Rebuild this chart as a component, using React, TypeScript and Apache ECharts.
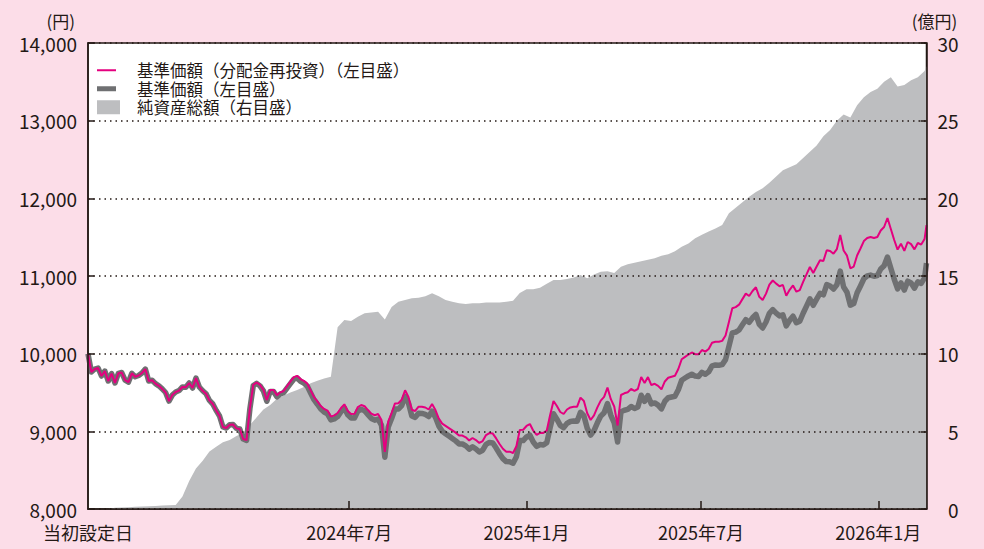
import React, { useEffect, useRef } from "react";
import * as echarts from "echarts";

const DAY = 86400000;
const START = Date.UTC(2023, 9, 4);
const END = Date.UTC(2026, 1, 20);
// half-weekly sample dates for the two price lines, plus the last date
const sampleDates: number[] = Array.from({ length: 249 }, (_, k) => START + k * 3.5 * DAY).concat([END]);
// weekly sample dates for net assets, plus the last date
const assetDates: number[] = Array.from({ length: 125 }, (_, k) => START + k * 7 * DAY).concat([END]);

// 基準価額（分配金再投資）
const navReinvested = [
  10000, 9764, 9802, 9815, 9712, 9776, 9648, 9744, 9622, 9747,
  9757, 9660, 9635, 9747, 9703, 9719, 9751, 9802, 9648, 9657,
  9614, 9586, 9547, 9500, 9390, 9467, 9506, 9525, 9571, 9569,
  9622, 9558, 9686, 9571, 9522, 9483, 9398, 9352, 9269, 9197,
  9056, 9043, 9085, 9088, 9038, 9030, 8901, 8888, 9300, 9600,
  9629, 9599, 9536, 9403, 9532, 9532, 9464, 9502, 9519, 9581,
  9639, 9697, 9715, 9673, 9650, 9615, 9527, 9442, 9385, 9326,
  9289, 9267, 9190, 9205, 9236, 9300, 9348, 9262, 9223, 9225,
  9313, 9339, 9323, 9274, 9227, 9207, 9223, 9146, 8734, 9125,
  9236, 9359, 9361, 9408, 9529, 9443, 9278, 9262, 9317, 9317,
  9307, 9281, 9352, 9274, 9165, 9099, 9070, 9041, 9012, 8983,
  8945, 8946, 8923, 8883, 8914, 8888, 8850, 8875, 8952, 8978,
  8971, 8909, 8837, 8776, 8738, 8738, 8721, 8808, 9017, 9020,
  9069, 9094, 9008, 8955, 8981, 8980, 9011, 9210, 9391, 9326,
  9249, 9223, 9281, 9308, 9317, 9317, 9434, 9391, 9232, 9146,
  9205, 9308, 9396, 9443, 9563, 9414, 9320, 9075, 9468, 9490,
  9504, 9545, 9522, 9545, 9699, 9622, 9699, 9596, 9612, 9586,
  9541, 9642, 9690, 9703, 9716, 9802, 9928, 9959, 9989, 10015,
  9993, 9992, 10047, 10026, 10060, 10140, 10154, 10154, 10165, 10233,
  10408, 10585, 10599, 10631, 10702, 10773, 10743, 10807, 10855, 10732,
  10691, 10773, 10889, 10942, 10902, 10868, 10885, 10745, 10822, 10878,
  10798, 10819, 10925, 11020, 11116, 11038, 11123, 11204, 11193, 11332,
  11322, 11287, 11347, 11528, 11329, 11262, 11099, 11122, 11264, 11354,
  11450, 11489, 11502, 11489, 11502, 11586, 11631, 11747, 11605, 11463,
  11340, 11416, 11324, 11438, 11410, 11343, 11425, 11405, 11476, 11656,
];

// 基準価額
const nav = [
  10000, 9764, 9802, 9815, 9712, 9776, 9648, 9744, 9622, 9747,
  9757, 9660, 9635, 9747, 9703, 9719, 9751, 9802, 9648, 9657,
  9614, 9586, 9547, 9500, 9390, 9467, 9506, 9525, 9571, 9569,
  9622, 9558, 9686, 9571, 9522, 9483, 9398, 9352, 9269, 9197,
  9056, 9043, 9085, 9088, 9038, 9030, 8901, 8884, 9292, 9590,
  9617, 9585, 9521, 9387, 9514, 9513, 9444, 9481, 9497, 9557,
  9614, 9670, 9687, 9644, 9620, 9583, 9494, 9407, 9349, 9288,
  9249, 9225, 9147, 9160, 9190, 9253, 9300, 9213, 9173, 9173,
  9260, 9284, 9266, 9215, 9166, 9144, 9158, 9079, 8666, 9055,
  9165, 9286, 9287, 9332, 9452, 9364, 9198, 9180, 9233, 9231,
  9219, 9191, 9260, 9180, 9069, 9001, 8970, 8939, 8908, 8877,
  8838, 8837, 8813, 8771, 8801, 8773, 8734, 8757, 8833, 8857,
  8849, 8785, 8712, 8649, 8610, 8608, 8590, 8674, 8881, 8881,
  8928, 8950, 8862, 8806, 8830, 8825, 8853, 9048, 9226, 9157,
  9077, 9048, 9103, 9127, 9133, 9131, 9246, 9201, 9040, 8952,
  9009, 9110, 9196, 9240, 9358, 9206, 9110, 8862, 9253, 9271,
  9282, 9320, 9294, 9314, 9465, 9385, 9459, 9353, 9366, 9337,
  9289, 9387, 9432, 9442, 9452, 9535, 9658, 9686, 9713, 9736,
  9711, 9707, 9759, 9735, 9766, 9843, 9854, 9851, 9859, 9923,
  10093, 10267, 10277, 10305, 10372, 10438, 10403, 10462, 10505, 10377,
  10331, 10408, 10519, 10567, 10522, 10486, 10500, 10357, 10430, 10482,
  10398, 10417, 10520, 10613, 10706, 10623, 10703, 10777, 10758, 10890,
  10872, 10832, 10887, 11063, 10859, 10790, 10624, 10645, 10784, 10872,
  10965, 11002, 11012, 10997, 11007, 11089, 11131, 11245, 11100, 10958,
  10835, 10911, 10819, 10933, 10910, 10843, 10925, 10905, 10976, 11166,
];

// 純資産総額（億円）
const netAssets = [
  0, 0, 0, 0, 0.08, 0.1, 0.12, 0.14, 0.16, 0.18,
  0.2, 0.22, 0.24, 0.26, 0.8, 1.8, 2.6, 3.1, 3.7, 4.0,
  4.3, 4.45, 4.7, 4.9, 5.4, 5.9, 6.4, 6.7, 7.1, 7.3,
  7.5, 7.66, 7.85, 8.1, 8.25, 8.4, 8.52, 11.7, 12.17, 12.1,
  12.38, 12.6, 12.65, 12.7, 12.2, 13.0, 13.35, 13.45, 13.57, 13.6,
  13.7, 13.89, 13.7, 13.45, 13.35, 13.25, 13.2, 13.25, 13.25, 13.3,
  13.3, 13.3, 13.35, 13.4, 13.9, 14.15, 14.15, 14.25, 14.5, 14.75,
  14.75, 14.8, 14.9, 15.07, 14.85, 15.1, 15.28, 15.3, 15.2, 15.6,
  15.75, 15.85, 15.95, 16.05, 16.14, 16.3, 16.4, 16.6, 16.89, 17.1,
  17.43, 17.65, 17.86, 18.05, 18.29, 19.04, 19.4, 19.75, 20.1, 20.4,
  20.65, 21.0, 21.4, 21.8, 22.0, 22.2, 22.6, 23.0, 23.4, 24.0,
  24.4, 25.0, 25.4, 25.2, 26.0, 26.5, 26.85, 27.05, 27.5, 27.8,
  27.2, 27.3, 27.6, 27.8, 28.2, 28.5,
];

const tickDates = [Date.UTC(2024, 6, 1), Date.UTC(2025, 0, 1), Date.UTC(2025, 6, 1), Date.UTC(2026, 0, 1)];
const tickLabels = ["2024年7月", "2025年1月", "2025年7月", "2026年1月"];
const inceptionLabel = "当初設定日";

const seriesNames = ["基準価額（分配金再投資）（左目盛）", "基準価額（左目盛）", "純資産総額（右目盛）"];

const PINK = "#e4007f";
const DARK = "#6f7072";
const AREA = "#bdbec0";
const INK = "#231815";
const BG = "#fcdde8";
const FONT = '"Noto Sans CJK JP", "Noto Sans", sans-serif';

export default function App() {
  const ref = useRef<HTMLDivElement>(null);
  useEffect(() => {
    if (!ref.current) return;
    const chart = echarts.init(ref.current, null, { renderer: "svg" });
    const pair = (dates: number[], arr: number[]) => arr.map((v, i) => [dates[i], v]);
    const axisLine = { show: true, lineStyle: { color: INK, width: 1.5 } };
    const legendBase = {
      left: 97,
      padding: 0,
      orient: "vertical" as const,
      icon: "rect",
      selectedMode: false,
      textStyle: { fontSize: 16.5, lineHeight: 16, color: INK, fontFamily: FONT },
    };
    chart.setOption({
      animation: false,
      backgroundColor: BG,
      textStyle: { fontFamily: FONT },
      grid: {
        left: 88,
        right: 57.5,
        top: 43,
        bottom: 40,
        show: true,
        backgroundColor: "#ffffff",
        borderColor: INK,
        borderWidth: 1.5,
      },
      legend: [
        {
          ...legendBase,
          top: 62,
          itemWidth: 19,
          itemHeight: 2,
          textStyle: { ...legendBase.textStyle, padding: [0, 0, 0, 16] },
          data: [{ name: seriesNames[0], itemStyle: { color: PINK } }],
        },
        {
          ...legendBase,
          top: 80.5,
          itemWidth: 19,
          itemHeight: 5,
          textStyle: { ...legendBase.textStyle, padding: [0, 0, 0, 16] },
          data: [{ name: seriesNames[1], itemStyle: { color: DARK } }],
        },
        {
          ...legendBase,
          top: 99,
          itemWidth: 23,
          itemHeight: 14,
          textStyle: { ...legendBase.textStyle, padding: [0, 0, 0, 12] },
          data: [{ name: seriesNames[2], itemStyle: { color: AREA } }],
        },
      ],
      xAxis: {
        type: "value",
        min: START,
        max: END,
        z: 10,
        axisLine,
        axisTick: {
          show: true,
          inside: true,
          length: 8,
          customValues: tickDates,
          lineStyle: { color: INK, width: 1.5 },
        },
        axisLabel: {
          customValues: [START, ...tickDates],
          formatter: (v: number) => {
            if (Math.abs(v - START) < DAY) return inceptionLabel;
            const i = tickDates.findIndex((t) => Math.abs(t - v) < DAY);
            return i >= 0 ? tickLabels[i] : "";
          },
          color: INK,
          fontSize: 18,
          lineHeight: 18,
          margin: 14,
          fontFamily: FONT,
        },
        splitLine: { show: false },
      },
      yAxis: [
        {
          type: "value",
          position: "left",
          min: 8000,
          max: 14000,
          interval: 1000,
          z: 10,
          name: "(円)",
          nameLocation: "end",
          nameGap: 15,
          nameTextStyle: { color: INK, fontSize: 17, lineHeight: 16, align: "right", padding: [0, 13, 0, 0], fontFamily: FONT },
          axisLine,
          axisTick: { show: true, inside: true, length: 6, lineStyle: { color: INK, width: 1.5 } },
          axisLabel: {
            color: INK,
            fontSize: 19,
            lineHeight: 18,
            margin: 11,
            fontFamily: FONT,
            formatter: (v: number) => v.toLocaleString("en-US"),
          },
          splitLine: { show: true, lineStyle: { color: INK, width: 1.5, type: [1.5, 4] } },
        },
        {
          type: "value",
          position: "right",
          min: 0,
          max: 30,
          interval: 5,
          z: 10,
          name: "(億円)",
          nameLocation: "end",
          nameGap: 15,
          nameTextStyle: { color: INK, fontSize: 17, lineHeight: 16, align: "center", padding: [0, 0, 0, 16], fontFamily: FONT },
          axisLine,
          axisTick: { show: true, inside: true, length: 6, lineStyle: { color: INK, width: 1.5 } },
          axisLabel: { color: INK, fontSize: 19, lineHeight: 18, margin: 32, align: "right", fontFamily: FONT },
          splitLine: { show: false },
        },
      ],
      series: [
        {
          name: seriesNames[2],
          type: "line",
          yAxisIndex: 1,
          data: pair(assetDates, netAssets),
          showSymbol: false,
          symbol: "none",
          lineStyle: { width: 0, color: AREA },
          itemStyle: { color: AREA },
          areaStyle: { color: AREA, opacity: 1 },
          z: 1,
        },
        {
          name: seriesNames[1],
          type: "line",
          yAxisIndex: 0,
          data: pair(sampleDates, nav),
          showSymbol: false,
          symbol: "none",
          lineStyle: { width: 5.5, color: DARK, join: "round" },
          itemStyle: { color: DARK },
          z: 2,
        },
        {
          name: seriesNames[0],
          type: "line",
          yAxisIndex: 0,
          data: pair(sampleDates, navReinvested),
          showSymbol: false,
          symbol: "none",
          lineStyle: { width: 2, color: PINK },
          itemStyle: { color: PINK },
          z: 3,
        },
      ],
    });
    return () => chart.dispose();
  }, []);
  return <div ref={ref} style={{ position: "fixed", left: 0, top: 0, width: 984, height: 549 }} />;
}
